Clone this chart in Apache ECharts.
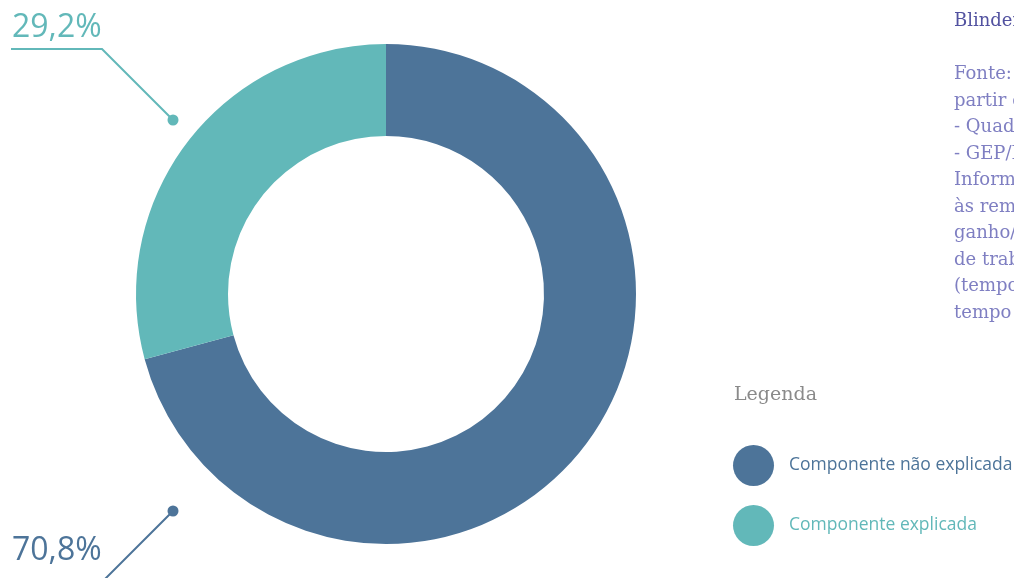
<!DOCTYPE html>
<html>
<head>
<meta charset="utf-8">
<script src="https://cdn.jsdelivr.net/npm/echarts@6/dist/echarts.min.js"></script>
<style>
html,body{margin:0;padding:0;background:#fff;}
#chart{width:1014px;height:578px;}
</style>
</head>
<body>
<div id="chart"></div>
<script>
// ---- data ----
const categories = ['Componente não explicada', 'Componente explicada'];
const values = [70.8, 29.2];
const colors = ['#4d7499', '#62b8b9'];
const legendTitle = 'Legenda';
const noteTitleLines = ['Decomposição Oaxaca-', 'Blinder'];
const noteLines = [
  'Fonte: Cálculos próprios a',
  'partir de:',
  '- Quadros de Pessoal',
  '- GEP/MTSSS',
  'Informação relativa',
  'às remunerações base/',
  'ganho/hora dos',
  'de trabalhadores',
  '(tempo completo e',
  'tempo parcial)'
];

// ---- layout constants ----
const CX = 386, CY = 294, R_IN = 158, R_OUT = 250;
const FONT = '"Open Sans", Lato, "Noto Sans", sans-serif';
const SERIF = '"DejaVu Serif", "Liberation Serif", serif';

const chart = echarts.init(document.getElementById('chart'), null, {renderer: 'canvas', width: 1014, height: 578});

function fmt(v) { return v.toFixed(1).replace('.', ',') + '%'; }

// label annotation geometry (relative to pie centre)
const annos = [
  {idx: 0, dot: [CX - 213, CY + 217], lineY: 581, textY: 551},
  {idx: 1, dot: [CX - 213, CY - 174], lineY: 49, textY: 28}
];

const graphics = [];
annos.forEach(a => {
  const c = colors[a.idx];
  const dy = Math.abs(a.lineY - a.dot[1]);
  const elbow = [a.dot[0] - dy, a.lineY];
  graphics.push({
    type: 'polyline', silent: true,
    shape: {points: [a.dot, elbow, [11, a.lineY]]},
    style: {stroke: c, lineWidth: 2, fill: null}
  });
  graphics.push({
    type: 'circle', silent: true,
    shape: {cx: a.dot[0], cy: a.dot[1], r: 5.5},
    style: {fill: c}
  });
  graphics.push({
    type: 'text', silent: true, x: 12, y: a.textY,
    style: {text: fmt(values[a.idx]), fill: c, font: '400 32px ' + FONT, textVerticalAlign: 'middle', textAlign: 'left'}
  });
});

// right-hand note text
graphics.push({
  type: 'text', silent: true, x: 954, y: -18,
  style: {text: noteTitleLines.join('\n'), fill: '#5252a0', font: '400 18px ' + SERIF, lineHeight: 26.5, textVerticalAlign: 'top'}
});
graphics.push({
  type: 'text', silent: true, x: 954, y: 61.5,
  style: {text: noteLines.join('\n'), fill: '#7f7fc2', font: '400 18px ' + SERIF, lineHeight: 26.5, textVerticalAlign: 'top'}
});
graphics.push({
  type: 'text', silent: true, x: 734, y: 395,
  style: {text: legendTitle, fill: '#8a8a8a', font: '400 19px ' + SERIF, textVerticalAlign: 'middle'}
});

const option = {
  animation: false,
  backgroundColor: '#ffffff',
  legend: {
    orient: 'vertical',
    left: 728,
    top: 440,
    icon: 'circle',
    itemWidth: 41,
    itemHeight: 41,
    itemGap: 19,
    selectedMode: false,
    data: categories.map((n, i) => ({name: n, textStyle: {color: colors[i]}})),
    textStyle: {fontSize: 17.5, fontFamily: FONT, padding: [0, 0, 0, 10]}
  },
  series: [{
    type: 'pie',
    center: [CX, CY],
    radius: [R_IN, R_OUT],
    startAngle: 90,
    clockwise: true,
    silent: true,
    label: {show: false},
    labelLine: {show: false},
    itemStyle: {borderWidth: 0},
    data: categories.map((n, i) => ({name: n, value: values[i], itemStyle: {color: colors[i]}}))
  }],
  graphic: graphics
};
chart.setOption(option);
</script>
</body>
</html>
